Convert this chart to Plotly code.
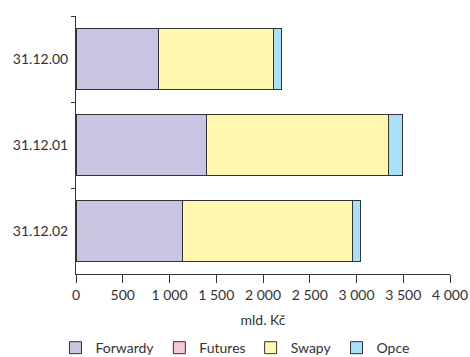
import plotly.graph_objects as go

categories = ["31.12.00", "31.12.01", "31.12.02"]
forwardy = [880, 1398, 1134]
futures = [0, 0, 0]
swapy = [1230, 1946, 1821]
opce = [86, 146, 93]
x_ticks = [0, 500, 1000, 1500, 2000, 2500, 3000, 3500, 4000]
x_tick_labels = ["0", "500", "1 000", "1 500", "2 000", "2 500", "3 000", "3 500", "4 000"]

series = [
    ("Forwardy", forwardy, "#C8C5E3"),
    ("Futures", futures, "#F7C6D9"),
    ("Swapy", swapy, "#FFF7B0"),
    ("Opce", opce, "#AADFF8"),
]

fig = go.Figure()
for name, vals, col in series:
    fig.add_trace(go.Bar(
        y=categories, x=vals, name=name, orientation="h",
        marker=dict(color=col, line=dict(color="#333333", width=1)),
    ))

fam = "Lato"
fig.update_layout(
    barmode="stack",
    bargap=0.28,
    width=470, height=357,
    margin=dict(l=76, r=20, t=16, b=83),
    paper_bgcolor="white", plot_bgcolor="white",
    font=dict(family=fam, size=14, color="#333333"),
    showlegend=True,
    legend=dict(orientation="h", xref="container", x=0.118, xanchor="left",
                yref="container", y=0.025, yanchor="middle",
                font=dict(family=fam, size=14, color="#333333"),
                traceorder="normal", itemwidth=30),
    xaxis=dict(range=[0, 4000], tickvals=x_ticks, ticktext=x_tick_labels,
               showgrid=False, zeroline=False, showline=True, linecolor="#333333",
               linewidth=1, ticks="outside", ticklen=8, tickcolor="#333333",
               tickfont=dict(family=fam, size=14, color="#333333"),
               automargin=False,
               title=dict(text="mld. Kč", standoff=13, font=dict(family=fam, size=14, color="#333333"))),
    yaxis=dict(autorange="reversed", showgrid=False, showline=True, linecolor="#333333",
               linewidth=1, ticks="outside", tickson="boundaries", ticklen=4,
               tickcolor="#333333", automargin=False, ticklabelstandoff=4,
               tickfont=dict(family=fam, size=14, color="#333333")),
)

fig.write_html("out.html", config={"displayModeBar": False},
               post_script="document.body.style.margin='0';document.body.style.overflow='hidden';")
